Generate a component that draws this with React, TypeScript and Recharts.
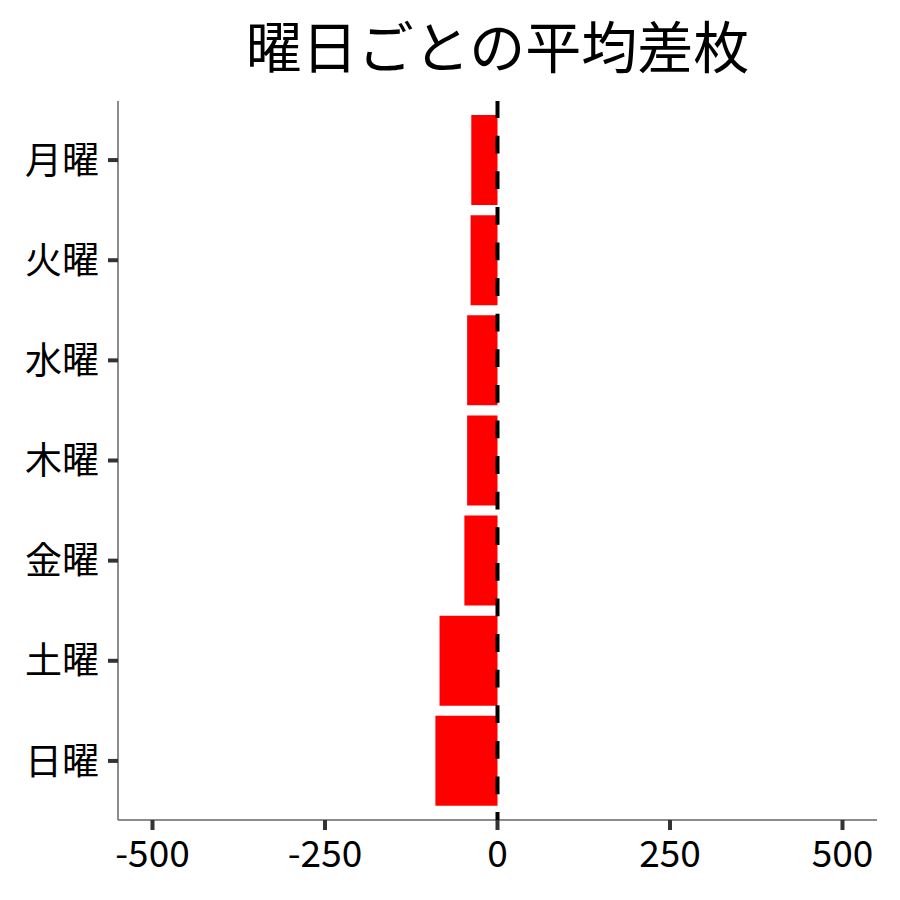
import React from 'react';
import { BarChart, Bar, XAxis, YAxis, ReferenceLine } from 'recharts';

const days = ['月曜', '火曜', '水曜', '木曜', '金曜', '土曜', '日曜'];
const avgDiff = [-38, -39, -44, -44, -48, -84, -90];
const xTicks = [-500, -250, 0, 250, 500];

const FONT = '"Noto Sans CJK JP", "Noto Sans", sans-serif';
const TICK_SIZE = 10;
const TICK_MARGIN = 9;

const data = days.map((day, i) => ({ day, value: avgDiff[i] }));

// tick mark + label drawn together so the mark can be thick and dark
const YTick = (props: any) => {
  const { x, y, payload } = props;
  const end = x + TICK_MARGIN;
  return (
    <g>
      <line x1={end} x2={end + TICK_SIZE} y1={y} y2={y} stroke="#333" strokeWidth={4} />
      <text x={x} y={y} dy="0.37em" textAnchor="end" fill="#000" fontSize={37} fontFamily={FONT}>
        {payload.value}
      </text>
    </g>
  );
};

const XTick = (props: any) => {
  const { x, y, payload } = props;
  const start = y - TICK_MARGIN - TICK_SIZE;
  return (
    <g>
      <line x1={x} x2={x} y1={start} y2={start + TICK_SIZE} stroke="#333" strokeWidth={4} />
      <text x={x} y={y} dy="0.76em" textAnchor="middle" fill="#000" fontSize={37} fontFamily={FONT}>
        {payload.value}
      </text>
    </g>
  );
};

const App: React.FC = () => {
  return (
    <div style={{ position: 'absolute', left: 0, top: 0, width: 900, height: 900, background: '#fff', fontFamily: FONT }}>
      <div
        style={{
          position: 'absolute',
          left: 118,
          width: 759,
          top: 8,
          textAlign: 'center',
          fontSize: 56,
          lineHeight: '72px',
          color: '#000',
        }}
      >
        曜日ごとの平均差枚
      </div>
      <BarChart
        width={900}
        height={900}
        data={data}
        layout="vertical"
        barCategoryGap="5%"
        margin={{ top: 101, right: 23, bottom: 0, left: 0 }}
      >
        <XAxis
          type="number"
          domain={[-550, 550]}
          ticks={xTicks}
          allowDataOverflow
          height={80}
          stroke="#666"
          strokeWidth={1.5}
          tickSize={TICK_SIZE}
          tickMargin={TICK_MARGIN}
          tickLine={false}
          tick={<XTick />}
        />
        <YAxis
          type="category"
          dataKey="day"
          width={118}
          padding={{ top: 9, bottom: 9 }}
          stroke="#666"
          strokeWidth={1.5}
          tickSize={TICK_SIZE}
          tickMargin={TICK_MARGIN}
          tickLine={false}
          tick={<YTick />}
        />
        <Bar dataKey="value" fill="#ff0000" isAnimationActive={false} />
        <ReferenceLine
          x={0}
          stroke="#000"
          strokeWidth={4}
          strokeDasharray="17.8 17.8"
          strokeDashoffset={9.9}
          zIndex={800}
        />
      </BarChart>
    </div>
  );
};

export default App;
